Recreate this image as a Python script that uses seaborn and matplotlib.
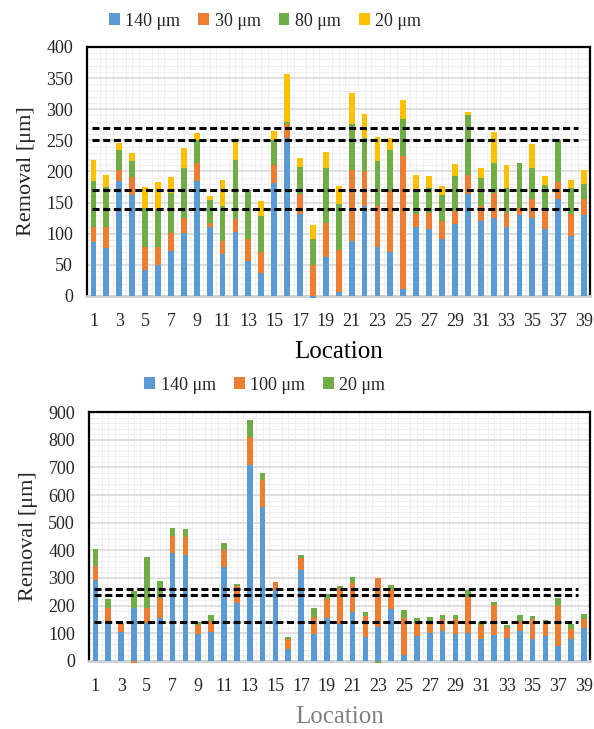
import numpy as np
import matplotlib
matplotlib.use("Agg")
import matplotlib.pyplot as plt
from matplotlib.patches import Patch
from matplotlib.ticker import MultipleLocator
import seaborn as sns

# ==================== data ====================
locations = list(range(1, 40))
tick_labels = [str(i) for i in range(1, 40, 2)]

# top chart (4 layers)
top_names = ["140 μm", "30 μm", "80 μm", "20 μm"]
top_140 = [86, 77, 185, 162, 41, 50, 72, 101, 184, 110, 68, 103, 56, 37, 181, 254, 132, -4, 62, 6,
           88, 145, 79, 70, 11, 111, 108, 92, 115, 163, 121, 126, 110, 130, 126, 108, 156, 97, 130]
top_30 = [25, 33, 18, 29, 38, 29, 29, 25, 30, 8, 21, 20, 36, 33, 30, 23, 31, 49, 56, 68,
          114, 55, 65, 98, 214, 20, 25, 29, 22, 31, 24, 39, 24, 12, 29, 28, 27, 34, 26]
top_80 = [74, 65, 32, 25, 63, 60, 65, 79, 37, 36, 56, 96, 78, 59, 39, 3, 44, 43, 87, 73,
          75, 54, 72, 67, 59, 39, 41, 41, 56, 96, 45, 48, 39, 71, 51, 42, 67, 43, 24]
top_20 = [33, 19, 11, 13, 33, 44, 25, 33, 11, 7, 42, 29, 1, 24, 15, 76, 15, 22, 27, 29,
          49, 39, 40, 19, 31, 24, 18, 14, 19, 6, 16, 51, 38, 1, 38, 14, 1, 13, 23]
top_refs = [270, 250, 170, 140]

# bottom chart (3 layers)
bot_names = ["140 μm", "100 μm", "20 μm"]
bot_140 = [291, 133, 105, 190, 137, 154, 389, 384, 99, 103, 339, 209, 709, 557, 257, 42, 328, 96, 157, 133,
           177, 87, 123, 188, 23, 91, 100, 107, 97, 102, 79, 93, 82, 110, 79, 91, 53, 81, 120]
bot_100 = [53, 57, 28, -8, 56, 72, 64, 65, 31, 41, 62, 61, 102, 97, 28, 37, 43, 64, 67, 130,
           104, 74, 178, 72, 132, 46, 44, 44, 54, 128, 51, 109, 38, 33, 71, 48, 144, 34, 30]
bot_20 = [62, 34, 4, 62, 182, 64, 26, 27, 10, 24, 26, 7, 61, 25, 2, 9, 13, 32, 18, 9,
          24, 17, -8, 14, 29, 20, 16, 16, 16, 27, 10, 13, 9, 24, 13, 9, 31, 19, 21]
bot_refs = [260, 240, 140]

colors = ["#5B9BD5", "#ED7D31", "#70AD47", "#FFC000"]

# ==================== style ====================
sns.set_style("white")
plt.rcParams['font.family'] = ['Liberation Serif', 'DejaVu Serif']


def stacked(ax, layers, cols):
    pos = np.zeros(len(locations))
    neg = np.zeros(len(locations))
    for vals, c in zip(layers, cols):
        v = np.array(vals, dtype=float)
        bottom = np.where(v >= 0, pos, neg)
        sns.barplot(x=locations, y=v, bottom=bottom, color=c, saturation=1, width=0.45,
                    errorbar=None, ax=ax, clip_on=False, zorder=3, linewidth=0)
        pos += np.clip(v, 0, None)
        neg += np.clip(v, None, 0)


def dress(ax, ymax, major, minor, refs, names, cols, xlabel_color, legend_y):
    ax.set_xlim(-0.5, 38.5)
    ax.set_ylim(0, ymax)
    ax.yaxis.set_major_locator(MultipleLocator(major))
    ax.yaxis.set_minor_locator(MultipleLocator(minor))
    ax.set_xticks(range(0, 39, 2))
    ax.set_xticklabels(tick_labels)
    ax.set_xticks(np.arange(-0.5, 39, 0.5), minor=True)
    ax.set_axisbelow(True)
    ax.grid(which="minor", axis="both", color="#efefef", lw=0.8)
    ax.grid(which="major", axis="y", color="#d9d9d9", lw=1.2)
    ax.tick_params(axis="both", which="both", length=0, labelsize=13)
    ax.tick_params(axis="x", pad=12)
    ax.tick_params(axis="y", pad=10)
    for s in ["top", "left", "right"]:
        ax.spines[s].set_color("black")
        ax.spines[s].set_linewidth(1.6)
    ax.spines["bottom"].set_color("#d0d0d0")
    ax.spines["bottom"].set_linewidth(2)
    for r in refs:
        ax.plot([-0.1, 37.5], [r, r], color="black", lw=2.2, ls=(0, (2.3, 1.2)), zorder=4)
    ax.set_ylabel("Removal [μm]", fontsize=16, labelpad=7)
    ax.set_xlabel("Location", fontsize=18, color=xlabel_color, labelpad=8)
    handles = [Patch(facecolor=c, edgecolor="none") for c in cols]
    fig.legend(handles, names, loc="center", bbox_to_anchor=(0.446, legend_y), ncol=len(names),
               frameon=False, fontsize=13, handlelength=0.6, handleheight=0.6,
               handletextpad=0.3, columnspacing=1.0)


fig = plt.figure(figsize=(5.94, 7.29), dpi=100)
ax1 = fig.add_axes([0.1465, 0.594, 0.8475, 0.3416])
ax2 = fig.add_axes([0.1498, 0.0933, 0.8442, 0.3415])

stacked(ax1, [top_140, top_30, top_80, top_20], colors)
dress(ax1, 400, 50, 10, top_refs, top_names, colors, "black", 1 - 21 / 729)

stacked(ax2, [bot_140, bot_100, bot_20], colors[:3])
dress(ax2, 900, 100, 20, bot_refs, bot_names, colors[:3], "#808080", 1 - 385 / 729)

fig.savefig("out.png", dpi=100)
